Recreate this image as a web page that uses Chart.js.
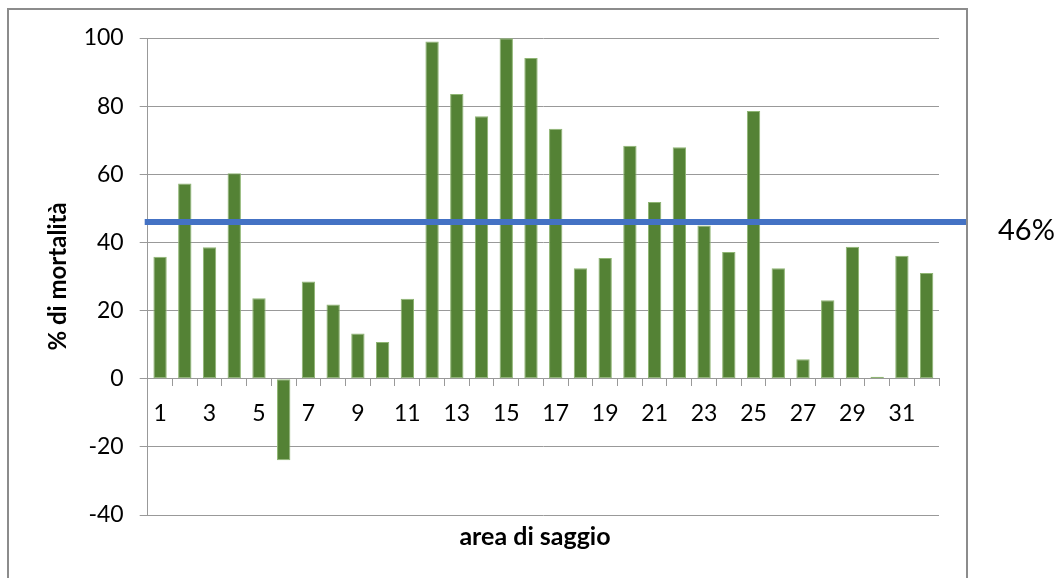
<!DOCTYPE html>
<html>
<head>
<meta charset="utf-8">
<script src="https://cdn.jsdelivr.net/npm/chart.js"></script>
<style>
  html, body { margin: 0; padding: 0; background: #fff; }
  #wrap { width: 1061px; height: 578px; }
</style>
</head>
<body>
<div id="wrap"><canvas id="mortChart"></canvas></div>
<script>
// aree di saggio e % di mortalità
var aree = ["1", "2", "3", "4", "5", "6", "7", "8", "9", "10", "11", "12", "13", "14", "15", "16",
            "17", "18", "19", "20", "21", "22", "23", "24", "25", "26", "27", "28", "29", "30", "31", "32"];
var mortalita = [35.8, 57.3, 38.6, 60.3, 23.6, -23.9, 28.5, 21.8, 13.3, 10.8, 23.5, 99.0, 83.6, 77.0, 99.9, 94.1,
                 73.4, 32.4, 35.4, 68.4, 51.9, 67.9, 45.0, 37.2, 78.6, 32.4, 5.7, 23.0, 38.7, 0.6, 36.1, 31.0];
var yTicks = [-40, -20, 0, 20, 40, 60, 80, 100];
var media = 46;

var FONT = "Lato, 'Open Sans', sans-serif";

// cornice, linea della media e titolo asse x
var extras = {
  id: "extras",
  beforeDraw: function (chart) {
    var ctx = chart.ctx;
    ctx.save();
    ctx.strokeStyle = "#8c8c8c";
    ctx.lineWidth = 2;
    ctx.strokeRect(8, 9, 959, 700);
    ctx.restore();
  },
  afterDatasetsDraw: function (chart) {
    var ctx = chart.ctx;
    var area = chart.chartArea;
    var y = chart.scales.y.getPixelForValue(media);
    ctx.save();
    ctx.strokeStyle = "#4472C4";
    ctx.lineWidth = 6;
    ctx.beginPath();
    ctx.moveTo(area.left - 3, y);
    ctx.lineTo(966, y);
    ctx.stroke();

    ctx.fillStyle = "#000";
    ctx.font = "29px " + FONT;
    ctx.textAlign = "left";
    ctx.textBaseline = "middle";
    ctx.fillText(media + "%", 998, y + 9);

    ctx.font = "bold 25px " + FONT;
    ctx.textAlign = "center";
    ctx.fillText("area di saggio", 535, 537);
    ctx.restore();
  }
};

var ctx = document.getElementById("mortChart").getContext("2d");
var myChart = new Chart(ctx, {
  type: "bar",
  data: {
    labels: aree,
    datasets: [
      {
        label: "% di mortalità",
        data: mortalita,
        backgroundColor: "#548235",
        borderColor: "#8fb573",
        borderWidth: 1,
        borderSkipped: false,
        barPercentage: 0.54,
        categoryPercentage: 1.0,
      },
    ],
  },
  options: {
    responsive: true,
    maintainAspectRatio: false,
    animation: false,
    layout: {
      padding: { left: 20, top: 38, right: 122, bottom: 63 },
    },
    plugins: {
      legend: { display: false },
      tooltip: { enabled: false },
    },
    scales: {
      x: {
        position: { y: 0 },
        offset: true,
        grid: {
          offset: true,
          drawOnChartArea: false,
          drawTicks: true,
          tickLength: 7,
          color: "#999",
        },
        border: { display: true, color: "#999", width: 1 },
        ticks: {
          autoSkip: false,
          maxRotation: 0,
          padding: 14,
          color: "#000",
          font: { family: FONT, size: 23 },
          callback: function (v, i) {
            return i % 2 === 0 ? aree[i] : "";
          },
        },
      },
      y: {
        min: -40,
        max: 100,
        afterBuildTicks: function (scale) {
          scale.ticks = yTicks.map(function (v) { return { value: v }; });
        },
        afterFit: function (scale) {
          scale.width = 127.7;
        },
        grid: {
          color: "#999",
          lineWidth: 1,
          drawTicks: true,
          tickLength: 8,
        },
        border: { display: true, color: "#999", width: 1 },
        ticks: {
          padding: 16,
          color: "#000",
          font: { family: FONT, size: 23 },
        },
        title: {
          display: true,
          text: "% di mortalità",
          color: "#000",
          font: { family: FONT, size: 24, weight: "bold" },
          padding: { top: 24, bottom: 0 },
        },
      },
    },
  },
  plugins: [extras],
});
</script>
</body>
</html>
